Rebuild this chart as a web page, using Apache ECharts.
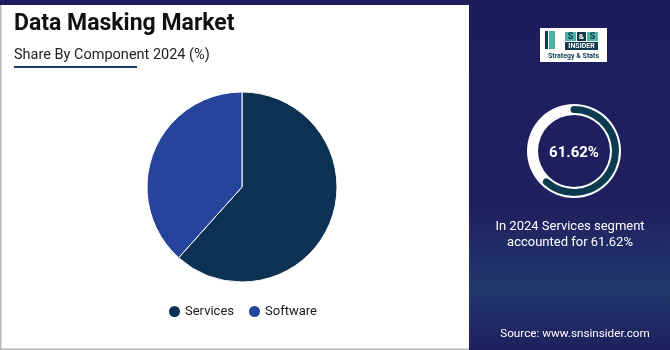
<!DOCTYPE html>
<html><head><meta charset="utf-8">
<script src="https://cdn.jsdelivr.net/npm/echarts@6/dist/echarts.min.js"></script>
<style>html,body{margin:0;padding:0;background:#fff}#c{width:670px;height:350px}</style>
</head><body><div id="c"></div>
<script>
const categories = ['Services', 'Software'];
const shares = [61.62, 38.38];
const colors = ['#0c3152', '#26449b'];
const highlightValue = 61.62;
const titleText = 'Data Masking Market';
const subtitleText = 'Share By Component 2024 (%)';
const noteLines = ['In 2024 Services segment', 'accounted for 61.62%'];
const sourceText = 'Source: www.snsinsider.com';

const chart = echarts.init(document.getElementById('c'), null, {renderer: 'canvas'});
const F = 'Roboto, "Noto Sans", sans-serif';
chart.setOption({
  animation: false,
  color: colors,
  legend: {
    data: categories, left: 164, top: 300, icon: 'circle', itemWidth: 11, itemHeight: 11,
    itemGap: 15, itemStyle: {borderWidth: 0},
    textStyle: {fontFamily: F, fontSize: 13, color: '#1a1a1a'}
  },
  graphic: [
    {type: 'rect', shape: {x: 0, y: 0, width: 1.5, height: 350}, style: {fill: '#b5b5b5'}},
    {type: 'rect', shape: {x: 0, y: 348.5, width: 670, height: 1.5}, style: {fill: '#b5b5b5'}},
    {type: 'rect', shape: {x: 469, y: 0, width: 201, height: 350}, style: {fill: {
      type: 'linear', x: 0, y: 0, x2: 0, y2: 1, colorStops: [
        {offset: 0, color: '#1e1c5d'}, {offset: 0.6, color: '#1f205f'},
        {offset: 0.83, color: '#22396d'}, {offset: 1, color: '#1e1f5e'}]}}},
    {type: 'rect', shape: {x: 0, y: 0, width: 670, height: 5}, style: {fill: '#1f1d5e'}},
    {type: 'text', left: 14, top: 13, style: {text: titleText, font: 'bold 23px ' + F, fill: '#111'}},
    {type: 'text', left: 14, top: 48, style: {text: subtitleText, font: '14.5px ' + F, fill: '#222'}},
    {type: 'rect', shape: {x: 14, y: 66, width: 123, height: 2}, style: {fill: '#1f3b72'}},
    // logo
    {type: 'rect', shape: {x: 540, y: 28, width: 67, height: 34}, style: {fill: '#ffffff'}},
    {type: 'rect', shape: {x: 545, y: 31, width: 3, height: 18}, style: {fill: '#0d3a4e'}},
    {type: 'rect', shape: {x: 549, y: 31, width: 6, height: 18}, style: {fill: '#4fb3a6'}},
    {type: 'rect', shape: {x: 565, y: 32, width: 11, height: 9}, style: {fill: '#4fb3a6'}},
    {type: 'rect', shape: {x: 577, y: 32, width: 9, height: 9}, style: {fill: '#0d3a4e'}},
    {type: 'rect', shape: {x: 587, y: 32, width: 11, height: 9}, style: {fill: '#4fb3a6'}},
    {type: 'text', x: 570.5, y: 36.5, style: {text: 'S', font: 'bold 9px ' + F, fill: '#0d3a4e', align: 'center', verticalAlign: 'middle'}},
    {type: 'text', x: 581.5, y: 36.5, style: {text: '&', font: 'bold 8px ' + F, fill: '#fff', align: 'center', verticalAlign: 'middle'}},
    {type: 'text', x: 592.5, y: 36.5, style: {text: 'S', font: 'bold 9px ' + F, fill: '#0d3a4e', align: 'center', verticalAlign: 'middle'}},
    {type: 'rect', shape: {x: 565, y: 42, width: 33, height: 8}, style: {fill: '#0d3a4e'}},
    {type: 'text', x: 581.5, y: 46, style: {text: 'INSIDER', font: 'bold 7px ' + F, fill: '#fff', align: 'center', verticalAlign: 'middle'}},
    {type: 'text', x: 573.5, y: 56, style: {text: 'Strategy & Stats', font: 'bold 7px ' + F, fill: '#0d3a4e', align: 'center', verticalAlign: 'middle'}},
    // right panel text
    {type: 'text', x: 574, y: 153, style: {text: highlightValue.toFixed(2) + '%', font: 'bold 15px ' + F, fill: '#fff', align: 'center', verticalAlign: 'middle'}},
    {type: 'text', x: 570, y: 227, style: {text: noteLines[0], font: '13px ' + F, fill: '#fff', align: 'center', verticalAlign: 'middle'}},
    {type: 'text', x: 570, y: 243, style: {text: noteLines[1], font: '13px ' + F, fill: '#fff', align: 'center', verticalAlign: 'middle'}},
    {type: 'text', x: 575, y: 334, style: {text: sourceText, font: '11.7px ' + F, fill: '#fff', align: 'center', verticalAlign: 'middle'}}
  ],
  series: [
    {
      type: 'pie', center: [242, 187], radius: [0, 95], startAngle: 90, clockwise: true,
      label: {show: false}, labelLine: {show: false}, silent: true,
      itemStyle: {borderColor: '#fff', borderWidth: 1},
      data: categories.map((c, i) => ({name: c, value: shares[i]}))
    },
    {
      type: 'gauge', center: [574, 151], radius: 47, startAngle: 90, endAngle: -270,
      min: 0, max: 100, pointer: {show: false}, axisTick: {show: false}, splitLine: {show: false},
      axisLabel: {show: false}, detail: {show: false}, title: {show: false},
      axisLine: {lineStyle: {width: 11, color: [[1, '#ffffff']]}},
      progress: {show: false}, data: [{value: 0}]
    },
    {
      type: 'gauge', center: [574, 151], radius: 45, startAngle: 90, endAngle: -270,
      min: 0, max: 100, pointer: {show: false}, axisTick: {show: false}, splitLine: {show: false},
      axisLabel: {show: false}, detail: {show: false}, title: {show: false},
      axisLine: {lineStyle: {width: 7, color: [[1, 'rgba(0,0,0,0)']]}},
      progress: {show: true, width: 7, roundCap: true, itemStyle: {color: '#0c3a50'}},
      data: [{value: highlightValue}]
    }
  ]
});
</script></body></html>
